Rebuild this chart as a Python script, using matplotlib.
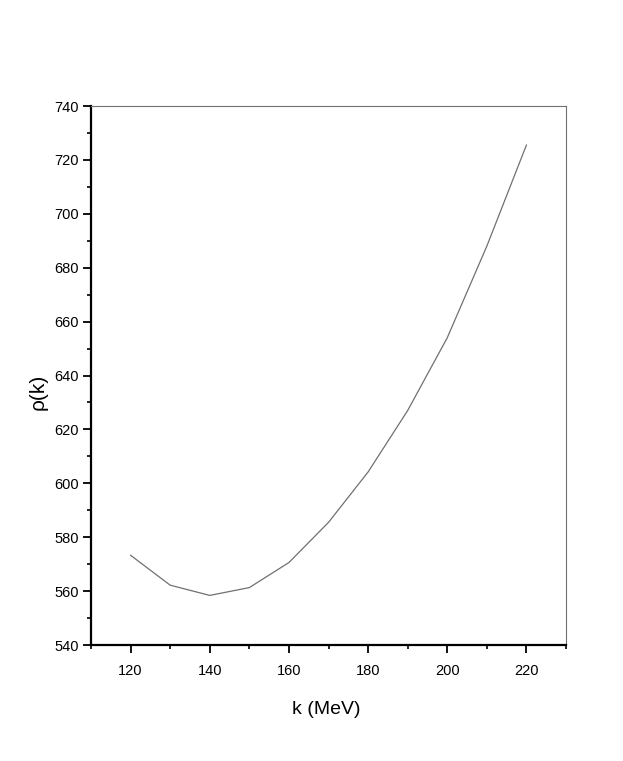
import matplotlib
matplotlib.use("Agg")
import matplotlib.pyplot as plt
from matplotlib.ticker import MultipleLocator

plt.rcParams['font.family'] = ['Liberation Sans', 'DejaVu Sans']

k = [120, 130, 140, 150, 160, 170, 180, 190, 200, 210, 220]
rho = [573.3, 562.2, 558.4, 561.3, 570.6, 585.5, 604.2, 627.0, 654.0, 688.0, 725.5]

W, H = 623, 761
fig = plt.figure(figsize=(W / 100, H / 100), dpi=100)
ax = fig.add_axes([91 / W, 1 - 645 / H, 475 / W, 539 / H])
ax.plot(k, rho, color='#707070', lw=0.9)

ax.set_xlim(110, 230)
ax.set_ylim(540, 740)
ax.xaxis.set_major_locator(MultipleLocator(20))
ax.xaxis.set_minor_locator(MultipleLocator(10))
ax.yaxis.set_major_locator(MultipleLocator(20))
ax.yaxis.set_minor_locator(MultipleLocator(10))

for s in ['left', 'bottom']:
    ax.spines[s].set_linewidth(1.6)
    ax.spines[s].set_color('black')
for s in ['top', 'right']:
    ax.spines[s].set_linewidth(0.8)
    ax.spines[s].set_color('#707070')

ax.tick_params(which='major', direction='out', length=5.5, width=1.3, labelsize=10.5, pad=4)
ax.tick_params(which='minor', direction='out', length=3, width=1.2)
ax.tick_params(axis='x', which='both', top=False, pad=8)
ax.tick_params(axis='y', which='both', right=False, pad=3)

fig.text(326 / W, 1 - 710 / H, 'k (MeV)', fontsize=14, ha='center', va='center')
fig.text(38 / W, 1 - 392 / H, 'ρ(k)', fontsize=15, rotation=90, ha='center', va='center')

fig.savefig('out.png', dpi=100)
